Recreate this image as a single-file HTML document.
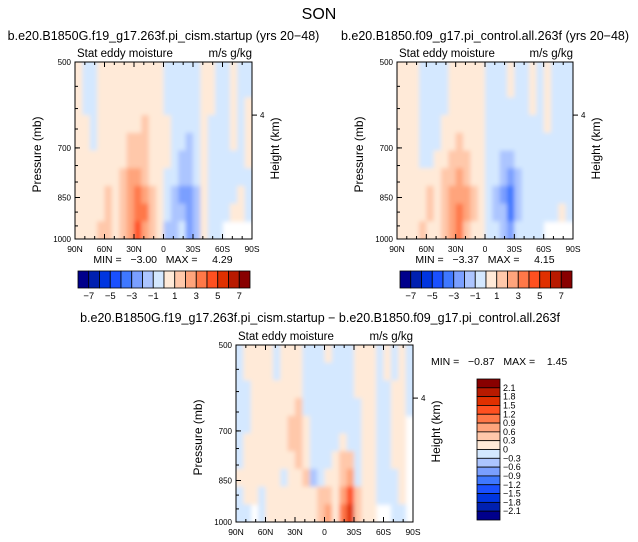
<!DOCTYPE html>
<html><head><meta charset="utf-8"><style>
body{margin:0;background:#fff;}
svg{display:block;font-family:"Liberation Sans",sans-serif;}
.pre{white-space:pre;}
</style></head><body>
<svg id="chart" width="638" height="542" viewBox="0 0 638 542">
<defs><filter id="soft" x="0" y="0" width="1" height="1"><feGaussianBlur stdDeviation="2"/></filter></defs>
<text x="319" y="19" font-size="16" text-anchor="middle">SON</text>
</svg>
<script>
const palette=["#00008b","#0020b0","#0035e0","#1a50ff","#3f78ff","#7a9fff","#acc5ff","#d4e8ff","#ffead8","#ffc8aa","#ffa47c","#ff7848","#ff5020","#e03000","#b81a00","#880000"];
const latLabels=["90N","60N","30N","0","30S","60S","90S"];
const pLabels=["500","700","850","1000"];
const pValues=[500,700,850,1000];
const cb1Labels=["-7","-5","-3","-1","1","3","5","7"];
const cb3Labels=["2.1","1.8","1.5","1.2","0.9","0.6","0.3","0","-0.3","-0.6","-0.9","-1.2","-1.5","-1.8","-2.1"];
const grid1=[
[.3,-.3,-.3,.3,.3,.3,.3,.3,.3,.3,.3,.3,-.3,-.3,-.3,-.3,-.3,.3,.3,-.3,-.3,.3,-.3,-.3],
[.3,-.3,-.3,.3,.3,.3,.3,.3,.3,.3,.3,.3,-.3,-.3,-.3,-.3,-.3,.3,.3,-.3,-.3,.3,-.3,-.3],
[.3,-.3,-.3,.3,.3,.3,.3,.3,.3,.3,.3,.3,-.3,-.3,-.3,-.3,-.3,.3,.3,-.3,-.3,.3,-.3,.3],
[.3,.3,-.3,.3,.3,.3,.3,.3,.3,1.2,.3,.3,.3,-.3,-.3,-.3,-.3,.3,-.3,-.3,-.3,.3,-.3,.3],
[.3,.3,-.3,.3,.3,.3,.3,1.2,1.2,1.2,.3,.3,.3,-.3,-.3,-1.2,-.3,.3,-.3,-.3,-.3,.3,-.3,.3],
[.3,.3,.3,.3,.3,.3,.3,1.2,1.2,1.2,.3,.3,.3,-.3,-1.2,-1.2,-.3,.3,-.3,-.3,-.3,-.3,-.3,.3],
[.3,.3,.3,.3,.3,.3,1.2,2.2,2.2,1.2,.3,.3,-.3,-.3,-1.2,-1.2,-.3,.3,-.3,-.3,-.3,-.3,-.3,-.3],
[.3,.3,.3,.3,1.2,.3,1.2,2.2,3.5,2.2,1.2,.3,-.3,-1.2,-2.2,-2.2,-1.2,.3,-.3,-.3,-.3,-.3,.3,-.3],
[.3,.3,.3,.3,1.2,.3,1.2,2.2,3.5,3.5,1.2,.3,-.3,-1.2,-1.2,-2.2,-1.2,.3,-.3,-.3,-.3,.3,.3,-.3],
[.3,.3,.3,1.2,1.2,.3,1.2,2.2,4.2,2.2,1.2,.3,-1.2,-1.2,-.3,-2.2,-1.2,.3,-.3,-.3,null,null,null,null]];
const grid2=[
[.3,.3,.3,-.3,-.3,-.3,-.3,.3,.3,.3,.3,.3,-.3,-.3,-.3,.3,-.3,-.3,.3,-.3,.3,-.3,-.3,-.3],
[.3,.3,.3,-.3,-.3,-.3,-.3,.3,.3,.3,.3,.3,-.3,-.3,-.3,.3,-.3,-.3,.3,-.3,.3,-.3,-.3,-.3],
[.3,.3,.3,-.3,-.3,-.3,-.3,.3,.3,.3,.3,.3,-.3,-.3,-.3,-.3,-.3,-.3,.3,-.3,.3,-.3,-.3,-.3],
[.3,.3,.3,-.3,-.3,-.3,.3,.3,.3,.3,.3,.3,-.3,-.3,-.3,-.3,-.3,-.3,-.3,-.3,.3,-.3,-.3,-.3],
[.3,.3,.3,-.3,-.3,-.3,.3,.3,1.2,.3,.3,.3,-.3,-.3,-.3,-.3,-.3,-.3,-.3,-.3,-.3,-.3,-.3,-.3],
[.3,.3,.3,-.3,-.3,.3,.3,1.2,1.2,1.2,.3,.3,-.3,-.3,-1.2,-1.2,-.3,-.3,-.3,-.3,-.3,-.3,-.3,-.3],
[.3,.3,.3,.3,.3,.3,1.2,1.2,2.2,1.2,.3,.3,-.3,-.3,-1.2,-2.2,-1.2,-.3,-.3,-.3,-.3,-.3,-.3,-.3],
[.3,.3,.3,.3,1.2,.3,1.2,2.2,2.2,2.2,1.2,.3,-.3,-1.2,-2.2,-3.2,-1.2,-.3,-.3,-.3,-.3,-.3,-.3,-.3],
[.3,.3,.3,.3,1.2,.3,1.2,2.2,3.5,2.2,1.2,.3,-.3,-1.2,-1.2,-3.2,-1.2,-.3,-.3,-.3,-.3,-.3,.3,-.3],
[.3,.3,.3,1.2,.3,.3,1.2,2.2,3.5,1.2,.3,.3,-.3,-.3,-1.2,-2.2,-.3,-.3,-.3,-.3,null,null,null,null]];
const grid3=[
[-.1,.1,.1,.1,.1,-.1,.1,.1,.1,-.1,-.1,-.1,.1,-.1,-.1,-.1,.1,.1,.1,-.1,.1,-.1,.1,-.1],
[-.1,.1,.1,.1,.1,-.1,.1,.1,.1,-.1,-.1,-.1,-.1,-.1,-.1,-.1,.1,.1,.1,-.1,.1,-.1,.1,-.1],
[-.1,-.1,.1,.1,.1,.1,.1,.1,.1,-.1,-.1,-.1,-.1,-.1,-.1,-.1,.1,.1,.1,-.1,-.1,.1,.1,-.1],
[-.1,-.1,.1,.1,.1,.1,.1,.1,.4,-.1,-.1,-.1,-.1,-.1,-.1,-.1,-.1,.1,.1,-.1,-.1,.1,.1,-.1],
[-.1,-.1,.1,.1,.1,.1,.1,.4,.4,.1,-.1,-.1,-.1,-.1,-.1,-.1,-.1,.1,.1,-.1,-.1,.1,.1,null],
[-.1,.1,.1,.1,.1,.1,.1,.4,.4,.1,-.1,-.1,-.1,-.1,.1,-.1,-.1,.1,.1,-.1,-.1,.1,.1,null],
[-.1,.1,.1,.1,.1,.1,.1,.1,.4,.1,-.1,-.1,-.1,.1,.4,.4,-.1,.1,.1,-.1,-.1,.1,.1,null],
[.1,.1,.1,.1,.1,.1,-.1,.1,.1,.4,-.4,-.1,.1,.1,.4,.7,-.1,.1,.1,-.1,-.1,-.1,.1,null],
[-.1,.1,.1,-.1,.1,.1,.1,.1,.1,.1,.1,.4,.4,.1,.7,1.3,.4,.1,.1,-.1,-.1,-.1,.1,null],
[-.1,-.1,null,-.1,.1,.1,.1,.1,.1,.1,.1,.4,.7,.1,1,1.6,.4,.1,.1,null,null,-.1,-.1,null]];

const svg=document.getElementById('chart');
const NS="http://www.w3.org/2000/svg";
function mk(tag,attrs,parent){const e=document.createElementNS(NS,tag);for(const k in attrs)e.setAttribute(k,attrs[k]);(parent||svg).appendChild(e);return e;}
function txt(x,y,s,size,anchor,parent){const t=mk('text',{x:x,y:y,'font-size':size,'text-anchor':anchor||'start'},parent);t.textContent=s;return t;}
let clipN=0;
function panel(name,grid,x0,y0,w,h,step,subtitle){
  const g=mk('g',{});
  
  
  const rows=grid.length,cols=grid[0].length;
  const cw=w/cols,ch=h/rows;
  const cid='clip'+(clipN++);
  const cp=mk('clipPath',{id:cid},g);mk('rect',{x:x0,y:y0,width:w,height:h},cp);
  const outer=mk('g',{'clip-path':`url(#${cid})`},g);
  const cells=mk('g',{filter:'url(#soft)'},outer);
  mk('rect',{x:x0-6,y:y0-6,width:w+12,height:h+12,fill:'#fff'},cells);
  grid.forEach((row,r)=>row.forEach((v,c)=>{
    if(v===null)return;
    let idx=Math.floor(v/step)+8;idx=Math.max(0,Math.min(15,idx));
    const ex=(c===0?-6:0),ew=(c===cols-1?6:0),ey=(r===0?-6:0),eh=(r===rows-1?6:0);
    const cell=mk('rect',{x:x0+c*cw+ex,y:y0+r*ch+ey,width:cw+0.5-ex+ew,height:ch+0.5-ey+eh,fill:palette[idx]},cells);
    
    
  }));
  mk('rect',{x:x0,y:y0,width:w,height:h,fill:'none',stroke:'#000','stroke-width':1},g);
  const xs=lat=>x0+(90-lat)/180*w;
  for(let lat=90;lat>=-90;lat-=10){
    const major=lat%30===0;const L=major?5:3;
    mk('line',{x1:xs(lat),x2:xs(lat),y1:y0+h,y2:y0+h-L,stroke:'#000'},g);
    mk('line',{x1:xs(lat),x2:xs(lat),y1:y0,y2:y0+L,stroke:'#000'},g);
  }
  latLabels.forEach((s,i)=>{const t=txt(xs(90-30*i),y0+h+13,s,8.5,'middle',g);
    });
  const ys=p=>y0+Math.log(p/500)/Math.log(2)*h;
  pValues.forEach((p,i)=>{mk('line',{x1:x0,x2:x0+5,y1:ys(p),y2:ys(p),stroke:'#000'},g);
    const t=txt(x0-4,ys(p)+3,pLabels[i],8,'end',g);
    });
  for(let p=550;p<1000;p+=50){mk('line',{x1:x0,x2:x0+3,y1:ys(p),y2:ys(p),stroke:'#000'},g);}
  const hy=y0+h*0.3;
  mk('line',{x1:x0+w,x2:x0+w+5,y1:hy,y2:hy,stroke:'#000'},g);
  txt(x0+w+8,hy+3,'4',8,'start',g);
  const yt=txt(0,0,'Pressure (mb)',12,'middle',g);
  yt.setAttribute('transform',`translate(${x0-34},${y0+h/2+4}) rotate(-90)`);
  
  const rt=txt(0,0,'Height (km)',12,'middle',g);
  rt.setAttribute('transform',`translate(${x0+w+27},${y0+h/2-2}) rotate(-90)`);
  
  const s1=txt(x0+2,y0-5,'Stat eddy moisture',11.5,'start',g);
  
  const s2=txt(x0+w,y0-5,'m/s g/kg',11.5,'end',g);
  
  if(subtitle){const st=txt(x0+w/2,40,subtitle,12.5,'middle',g);
    }
  return g;
}
function hbar(name,x0,y0,w,h){
  const g=mk('g',{});
  
  
  const bw=w/16;
  palette.forEach((c,i)=>{mk('rect',{x:x0+i*bw,y:y0,width:bw,height:h,fill:c,stroke:'#000','stroke-width':0.8},g);});
  cb1Labels.forEach((s,i)=>{const t=txt(x0+(2*i+1)*bw,y0+h+11,s.replace('-','\u2212'),9.5,'middle',g);
    });
}
panel('panel-cism',grid1,75,62,177,177,1,'b.e20.B1850G.f19_g17.263f.pi_cism.startup (yrs 20\u221248)');
panel('panel-control',grid2,397,62,176,177,1,'b.e20.B1850.f09_g17.pi_control.all.263f (yrs 20\u221248)');
hbar('colorbar-cism',78,271,172,17);
hbar('colorbar-control',400,271,172,17);
let m=txt(163,263,'MIN =   \u22123.00   MAX =     4.29',10.5,'middle');m.setAttribute('class','pre');

m=txt(485,263,'MIN =   \u22123.37   MAX =     4.15',10.5,'middle');m.setAttribute('class','pre');

panel('panel-difference',grid3,236,345,177,177,0.3,null);
m=txt(320,322,'b.e20.B1850G.f19_g17.263f.pi_cism.startup \u2212 b.e20.B1850.f09_g17.pi_control.all.263f',12.5,'middle');

m=txt(431,365,'MIN =   \u22120.87   MAX =    1.45',10.5,'start');m.setAttribute('class','pre');

const vg=mk('g',{});


const vh=141/16;
palette.slice().reverse().forEach((c,i)=>{mk('rect',{x:477,y:379+i*vh,width:23,height:vh,fill:c,stroke:'#000','stroke-width':0.8},vg);});
cb3Labels.forEach((s,i)=>{const t=txt(503,379+(i+1)*vh+3,s.replace('-','\u2212'),9,'start',vg);
  });
</script>
</body></html>
